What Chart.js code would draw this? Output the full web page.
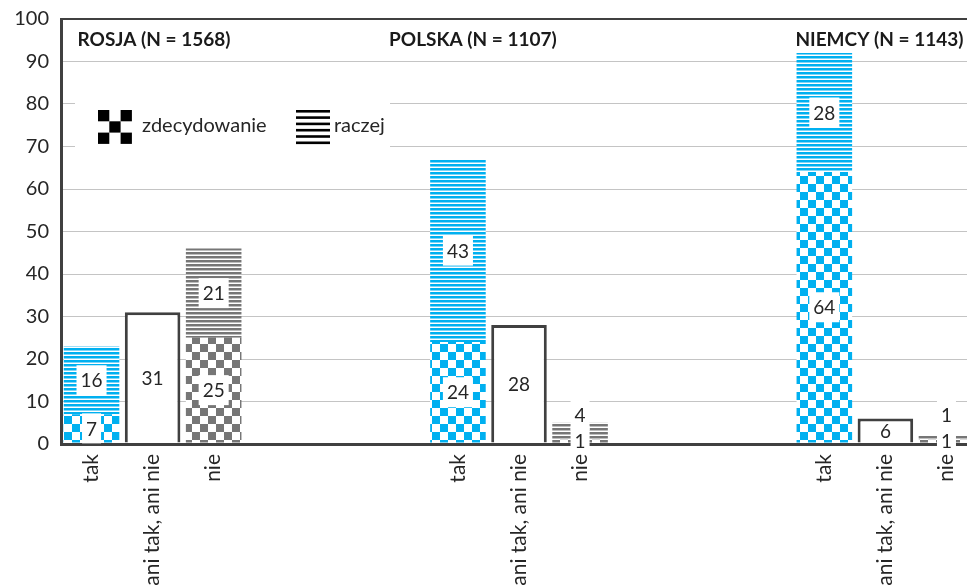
<!DOCTYPE html>
<html>
<head>
<meta charset="utf-8">
<script src="https://cdn.jsdelivr.net/npm/chart.js@4/dist/chart.umd.min.js"></script>
<style>
  html, body { margin: 0; padding: 0; background: #fff; overflow: hidden; }
  #wrap { width: 977px; height: 588px; }
</style>
</head>
<body>
<div id="wrap"><canvas id="chart" width="977" height="588"></canvas></div>
<script>
// data
const countries = ["ROSJA", "POLSKA", "NIEMCY"];
const sampleSizes = [1568, 1107, 1143];
const answers = ["tak", "ani tak, ani nie", "nie"];
const takZdecydowanie = [7, 24, 64];
const takRaczej = [16, 43, 28];
const aniTakAniNie = [31, 28, 6];
const nieZdecydowanie = [25, 1, 1];
const nieRaczej = [21, 4, 1];
const gapSlots = 3;
const yTicks = [0, 10, 20, 30, 40, 50, 60, 70, 80, 90, 100];

const FONT = "Lato";
const TEXT = "#262626";
const DARK = "#404040";
const BLUE = "#00B0F0";
const GRAY = "#767676";

function makeChecker(color, cell) {
    const c = document.createElement("canvas");
    c.width = c.height = cell * 2;
    const x = c.getContext("2d");
    x.fillStyle = "#fff";
    x.fillRect(0, 0, cell * 2, cell * 2);
    x.fillStyle = color;
    x.fillRect(0, 0, cell, cell);
    x.fillRect(cell, cell, cell, cell);
    return x.createPattern(c, "repeat");
}

function makeStripes(dark, light) {
    const c = document.createElement("canvas");
    c.width = 4; c.height = 4;
    const x = c.getContext("2d");
    x.fillStyle = "#fff";
    x.fillRect(0, 0, 4, 4);
    x.fillStyle = dark;
    x.fillRect(0, 0, 4, 2);
    x.fillStyle = light;
    x.fillRect(0, 2, 4, 1);
    return x.createPattern(c, "repeat");
}

const blueChecker = makeChecker(BLUE, 8);
const grayChecker = makeChecker(GRAY, 8);
const blueStripes = makeStripes(BLUE, "#7fd5f6");
const grayStripes = makeStripes(GRAY, "#bdbdbd");

// build slot layout: 3 answers per country, empty slots between countries
const slotLabels = [];
const zdecData = [], raczejData = [], neutralData = [];
const zdecFill = [], raczejFill = [];
countries.forEach((c, i) => {
    answers.forEach((a, j) => {
        slotLabels.push(a);
        zdecData.push(j === 0 ? takZdecydowanie[i] : j === 2 ? nieZdecydowanie[i] : null);
        raczejData.push(j === 0 ? takRaczej[i] : j === 2 ? nieRaczej[i] : null);
        neutralData.push(j === 1 ? aniTakAniNie[i] : null);
        zdecFill.push(j === 2 ? grayChecker : blueChecker);
        raczejFill.push(j === 2 ? grayStripes : blueStripes);
    });
    if (i < countries.length - 1) {
        for (let k = 0; k < gapSlots; k++) {
            slotLabels.push("");
            zdecData.push(null); raczejData.push(null); neutralData.push(null);
            zdecFill.push("#fff"); raczejFill.push("#fff");
        }
    }
});
const slotsPerCountry = answers.length + gapSlots;

// white box behind the legend, then legend, titles
const decorPlugin = {
    id: "decor",
    beforeDatasetsDraw(chart) {
        const { ctx, chartArea } = chart;
        ctx.save();
        ctx.fillStyle = "#fff";
        ctx.fillRect(chartArea.left + 14, 92, 315, 68);
        ctx.restore();
    },
    afterDraw(chart) {
        const { ctx, chartArea, scales } = chart;
        const xs = scales.x;
        ctx.save();
        // legend icons
        const lx = chartArea.left + 37, ly = 110, cell = 11.3;
        ctx.fillStyle = "#000";
        [[0, 0], [2, 0], [1, 1], [0, 2], [2, 2]].forEach(([cx, cy]) => {
            ctx.fillRect(lx + cx * cell, ly + cy * cell, cell, cell);
        });
        const sx = chartArea.left + 235;
        for (let k = 0; k < 6; k++) {
            ctx.fillRect(sx, ly + k * 6.3, 34, 2.6);
        }
        ctx.font = "20px " + FONT;
        ctx.fillStyle = TEXT;
        ctx.textBaseline = "middle";
        ctx.textAlign = "left";
        ctx.fillText("zdecydowanie", chartArea.left + 81, 126);
        ctx.fillText("raczej", chartArea.left + 273, 126);

        // country titles
        ctx.font = "bold 19px " + FONT;
        ctx.fillStyle = "#1a1a1a";
        const ty = chartArea.top + 21;
        const titles = countries.map((c, i) => c + " (N = " + sampleSizes[i] + ")");
        ctx.textAlign = "left";
        ctx.fillText(titles[0], xs.getPixelForValue(0) - 14, ty);
        ctx.textAlign = "center";
        ctx.fillText(titles[1], xs.getPixelForValue(slotsPerCountry) + 15, ty);
        ctx.textAlign = "right";
        ctx.fillText(titles[2], xs.getPixelForValue(2 * slotsPerCountry + 2) + 17, ty);
        ctx.restore();
    }
};

// data labels with white boxes
const labelPlugin = {
    id: "barLabels",
    afterDatasetsDraw(chart) {
        const { ctx, chartArea } = chart;
        ctx.save();
        ctx.font = "19px " + FONT;
        ctx.textAlign = "center";
        ctx.textBaseline = "middle";
        const drawLabel = (text, x, y, boxed) => {
            const w = ctx.measureText(text).width + 8;
            if (boxed) {
                const top = y - 15;
                const bottom = Math.min(y + 15, chartArea.bottom + 2);
                ctx.fillStyle = "#fff";
                ctx.fillRect(x - w / 2, top, w, bottom - top);
            }
            ctx.fillStyle = TEXT;
            ctx.fillText(text, x, y + 1);
        };
        for (let i = 0; i < slotLabels.length; i++) {
            let zy = null;
            const zv = chart.data.datasets[0].data[i];
            if (zv != null) {
                const el = chart.getDatasetMeta(0).data[i];
                zy = (el.y + el.base) / 2;
                drawLabel(String(zv), el.x, zy, true);
            }
            const rv = chart.data.datasets[1].data[i];
            if (rv != null) {
                const el = chart.getDatasetMeta(1).data[i];
                let ry = (el.y + el.base) / 2;
                if (zy != null && zy - ry < 24) ry = zy - 26;
                drawLabel(String(rv), el.x, ry, true);
            }
            const nv = chart.data.datasets[2].data[i];
            if (nv != null) {
                const el = chart.getDatasetMeta(2).data[i];
                drawLabel(String(nv), el.x, (el.y + el.base) / 2, false);
            }
        }
        ctx.restore();
    }
};

new Chart(document.getElementById("chart").getContext("2d"), {
    type: "bar",
    data: {
        labels: slotLabels,
        datasets: [
            { label: "zdecydowanie", data: zdecData, backgroundColor: zdecFill, borderWidth: 0 },
            { label: "raczej", data: raczejData, backgroundColor: raczejFill, borderWidth: 0 },
            { label: "ani tak, ani nie", data: neutralData, backgroundColor: "#fff",
              borderColor: DARK, borderWidth: 3 }
        ]
    },
    options: {
        responsive: false,
        animation: false,
        layout: { padding: { top: 19, left: 0, right: 0, bottom: 0 } },
        datasets: { bar: { categoryPercentage: 1, barPercentage: 0.91 } },
        plugins: { legend: { display: false }, tooltip: { enabled: false } },
        scales: {
            x: {
                stacked: true,
                grid: { display: false, drawTicks: false },
                border: { color: DARK, width: 3 },
                ticks: {
                    autoSkip: false, minRotation: 90, maxRotation: 90, padding: 10,
                    color: TEXT, font: { family: FONT, size: 21 }
                },
                afterFit(scale) {
                    scale.height = 144;
                    scale.paddingLeft = 0; scale.paddingRight = 0;
                }
            },
            y: {
                stacked: true,
                min: 0, max: 100,
                afterBuildTicks(scale) { scale.ticks = yTicks.map(v => ({ value: v })); },
                ticks: { padding: 12, color: TEXT, font: { family: FONT, size: 20 } },
                grid: {
                    drawTicks: false,
                    color: c => (c.tick && (c.tick.value === 100 || c.tick.value === 0)) ? DARK : "#c4c4c4",
                    lineWidth: c => (c.tick && c.tick.value === 100) ? 2 : (c.tick && c.tick.value === 0 ? 3 : 1)
                },
                border: { color: DARK, width: 3 },
                afterFit(scale) {
                    scale.width = 61;
                    scale.paddingTop = 0; scale.paddingBottom = 0;
                }
            }
        }
    },
    plugins: [decorPlugin, labelPlugin]
});
</script>
</body>
</html>
